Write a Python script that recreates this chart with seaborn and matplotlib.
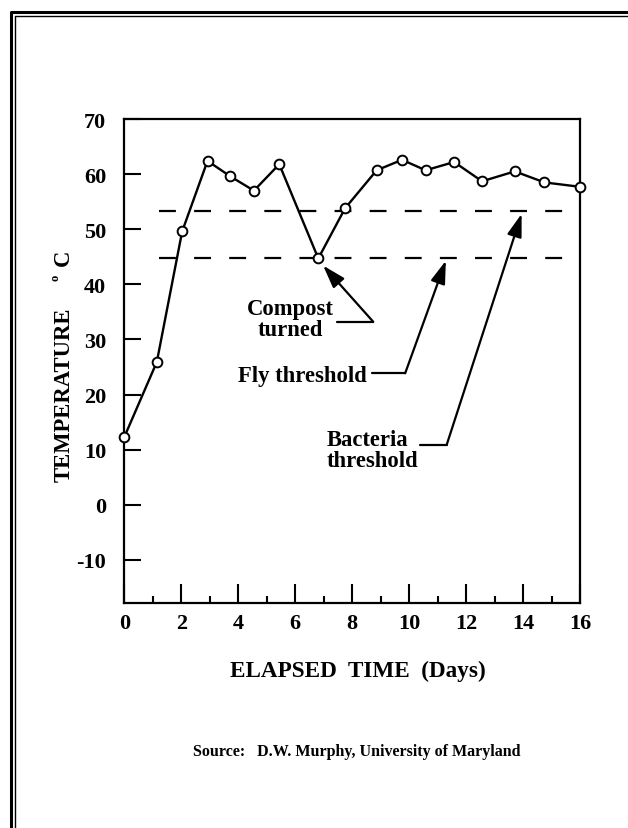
import numpy as np
import matplotlib.pyplot as plt
import seaborn as sns
import pandas as pd

# compost temperature over time
days = [0, 1.14, 2.03, 2.92, 3.72, 4.55, 5.44, 6.81, 7.75, 8.86, 9.75, 10.58, 11.58, 12.56, 13.71, 14.75, 16.0]
temps = [12.3, 25.9, 49.6, 62.4, 59.6, 57.0, 61.8, 44.7, 53.8, 60.7, 62.6, 60.7, 62.2, 58.7, 60.5, 58.5, 57.7]

fly_threshold = 44.7
bacteria_threshold = 53.3
threshold_span = [1.23, 15.47]

xticks = list(range(0, 17, 2))
yticks = list(range(-10, 71, 10))

df = pd.DataFrame({'Days': days, 'Temp': temps})

sns.set_style('ticks')
plt.rcParams['font.family'] = ['Liberation Serif', 'DejaVu Serif']
plt.rcParams['font.weight'] = 'bold'
plt.rcParams['axes.unicode_minus'] = False
for k in ['text.color', 'axes.labelcolor', 'xtick.color', 'ytick.color', 'axes.edgecolor']:
    plt.rcParams[k] = 'black'

fig = plt.figure(figsize=(6.28, 8.29), dpi=100)
ax = fig.add_axes([0.198, 0.271, 0.7256, 0.5842])

# threshold lines
for t in [bacteria_threshold, fly_threshold]:
    ax.plot(threshold_span, [t, t], color='black', lw=1.6,
            linestyle=(0, (7.6, 8.2)), zorder=1)

sns.lineplot(data=df, x='Days', y='Temp', ax=ax, color='black', lw=1.7,
             marker='o', markersize=7, markerfacecolor='white',
             markeredgecolor='black', markeredgewidth=1.4, zorder=3,
             clip_on=False)

ax.set_xlim(0, 16)
ax.set_ylim(-17.9, 70)
ax.set_xticks(xticks)
ax.set_xticks(range(1, 16, 2), minor=True)
ax.set_yticks(yticks)
ax.set_xlabel('')
ax.set_ylabel('')
for s in ax.spines.values():
    s.set_linewidth(1.6)
    s.set_color('black')
ax.tick_params(axis='y', direction='in', length=12, width=1.5, pad=13,
               labelsize=16, right=False, colors='black')
ax.tick_params(axis='x', which='major', direction='in', length=13.5, width=1.5,
               pad=7, labelsize=16, top=False, colors='black')
ax.tick_params(axis='x', which='minor', direction='in', length=5, width=1.5,
               top=False, colors='black')
for lab in ax.get_xticklabels() + ax.get_yticklabels():
    lab.set_fontweight('bold')

# annotations
akw = dict(arrowstyle='-|>,head_length=1.4,head_width=0.45', mutation_scale=10,
           lw=1.6, color='black', shrinkA=0, shrinkB=0)

ax.text(5.82, 33.7, 'Compost\nturned', ha='center', va='center',
        fontsize=16.3, fontweight='bold', linespacing=1.0)
ax.plot([7.46, 8.74], [33.2, 33.2], color='black', lw=1.6)
ax.annotate('', xy=(6.98, 43.4), xytext=(8.74, 33.2), arrowprops=akw)

ax.text(8.51, 23.4, 'Fly threshold', ha='right', va='center',
        fontsize=16.3, fontweight='bold')
ax.plot([8.69, 9.86], [23.85, 23.85], color='black', lw=1.6)
ax.annotate('', xy=(11.29, 44.3), xytext=(9.86, 23.85), arrowprops=akw)

ax.text(7.11, 10.0, 'Bacteria\nthreshold', ha='left', va='center',
        fontsize=16.3, fontweight='bold', linespacing=1.0)
ax.plot([10.38, 11.32], [10.9, 10.9], color='black', lw=1.6)
ax.annotate('', xy=(13.95, 52.8), xytext=(11.32, 10.9), arrowprops=akw)

# axis titles as figure text
fig.text(64 / 628, 1 - 395 / 829, 'TEMPERATURE', rotation=90, ha='center',
         va='center', fontsize=16.3, fontweight='bold')
fig.text(63 / 628, 1 - 258 / 829, 'C', rotation=90, ha='center',
         va='center', fontsize=16.3, fontweight='bold')
fig.text(55.5 / 628, 1 - 277.5 / 829, 'o', rotation=90, ha='center',
         va='center', fontsize=9, fontweight='bold')
fig.text(358 / 628, 1 - 671.7 / 829, 'ELAPSED  TIME  (Days)', ha='center',
         va='center', fontsize=16.7, fontweight='bold')
fig.text(356.7 / 628, 1 - 751.7 / 829, 'Source:   D.W. Murphy, University of Maryland',
         ha='center', va='center', fontsize=11.5, fontweight='bold')

# double frame on the left and top edge
W, H = 628, 829
fig.add_artist(plt.Line2D([10.5 / W, 10.5 / W, 1], [0, 1 - 13 / H, 1 - 13 / H],
                          transform=fig.transFigure, color='black', lw=2.2))
fig.add_artist(plt.Line2D([14.8 / W, 14.8 / W, 1], [0, 1 - 17.2 / H, 1 - 17.2 / H],
                          transform=fig.transFigure, color='black', lw=1.0))

fig.savefig('out.png', dpi=100)
